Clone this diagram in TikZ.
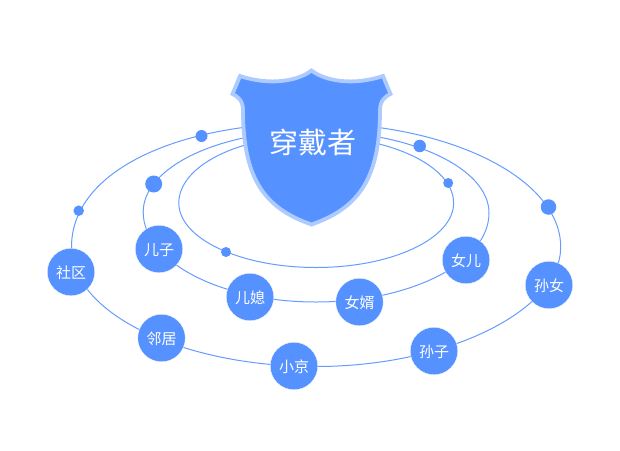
\documentclass[tikz,border=0pt]{standalone}
\usepackage{fontspec}
\setmainfont{Noto Sans CJK SC}
\definecolor{mainblue}{HTML}{5591FF}
\definecolor{lightblue}{HTML}{AECBFF}
\newcommand{\lowered}[1]{\raisebox{-0.8pt}[13.2pt][1.8pt]{#1}}
\tikzset{
  orbit/.style={draw=mainblue!90!white,line width=1pt},
  person/.style={circle,fill=mainblue,draw=white,line width=0.3pt,minimum size=47.5pt,inner sep=0pt,text=white,font=\fontsize{15}{17}\selectfont},
  dotmark/.style={circle,fill=mainblue,draw=none,inner sep=0pt},
  shield/.style={fill=mainblue,draw=lightblue,line width=3.8pt,line join=miter}
}
\begin{document}
\begin{tikzpicture}[x=1pt,y=-1pt]
\useasboundingbox[fill=white] (0,0) rectangle (620,450);
\draw[orbit] (71.5,247) .. controls (71.5,170) and (179.2,123) .. (312,123)
  .. controls (449.4,123) and (560.7,178.5) .. (560.7,247)
  .. controls (560.7,310.3) and (448,366.5) .. (316,366.5)
  .. controls (181,366.5) and (71.5,313) .. (71.5,247) -- cycle;
\draw[orbit] (143.2,212) .. controls (143.2,167.3) and (218.8,131) .. (312,131)
  .. controls (409.8,131) and (489,167.7) .. (489,213)
  .. controls (489,262.2) and (411.5,302) .. (316,302)
  .. controls (220.6,302) and (143.2,261.7) .. (143.2,212) -- cycle;
\draw[orbit] (178.8,203) .. controls (178.8,166) and (238.4,136) .. (312,136)
  .. controls (390.2,136) and (453.6,166) .. (453.6,203)
  .. controls (453.6,238.6) and (392,267.5) .. (316,267.5)
  .. controls (240.2,267.5) and (178.8,238.6) .. (178.8,203) -- cycle;
\node[dotmark,minimum size=12pt] (d1) at (201.5,136) {};
\node[dotmark,minimum size=10.5pt] (d2) at (78.7,210.7) {};
\node[dotmark,minimum size=17pt] (d3) at (153.7,184) {};
\node[dotmark,minimum size=12.5pt] (d4) at (419.7,146) {};
\node[dotmark,minimum size=10pt] (d5) at (448.2,183) {};
\node[dotmark,minimum size=10pt] (d6) at (226,252) {};
\node[dotmark,minimum size=15.5pt] (d7) at (548.5,207) {};
\node[person] (n1) at (71,272) {\lowered{社区}};
\node[person] (n2) at (159,249) {\lowered{儿子}};
\node[person] (n3) at (250,297) {\lowered{儿媳}};
\node[person] (n4) at (359.5,302) {\lowered{女婿}};
\node[person] (n5) at (466,260) {\lowered{女儿}};
\node[person] (n6) at (549,285) {\lowered{孙女}};
\node[person] (n7) at (434,351) {\lowered{孙子}};
\node[person] (n8) at (294,366) {\lowered{小京}};
\node[person] (n9) at (161.5,338) {\lowered{邻居}};
\draw[shield] (311.5,70.5)
  .. controls (298,81) and (270,86) .. (240,76)
  -- (232.5,94)
  .. controls (237,96) and (243,100) .. (243,110)
  .. controls (243,178) and (264,208) .. (311.5,224.5)
  .. controls (359,208) and (380,178) .. (380,110)
  .. controls (380,100) and (386,96) .. (390.5,94)
  -- (383,76)
  .. controls (353,86) and (325,81) .. (311.5,70.5) -- cycle;
\node[text=white,inner sep=0pt,font=\fontsize{29}{33}\selectfont] (title) at (313,142) {穿戴者};
\end{tikzpicture}
\end{document}
